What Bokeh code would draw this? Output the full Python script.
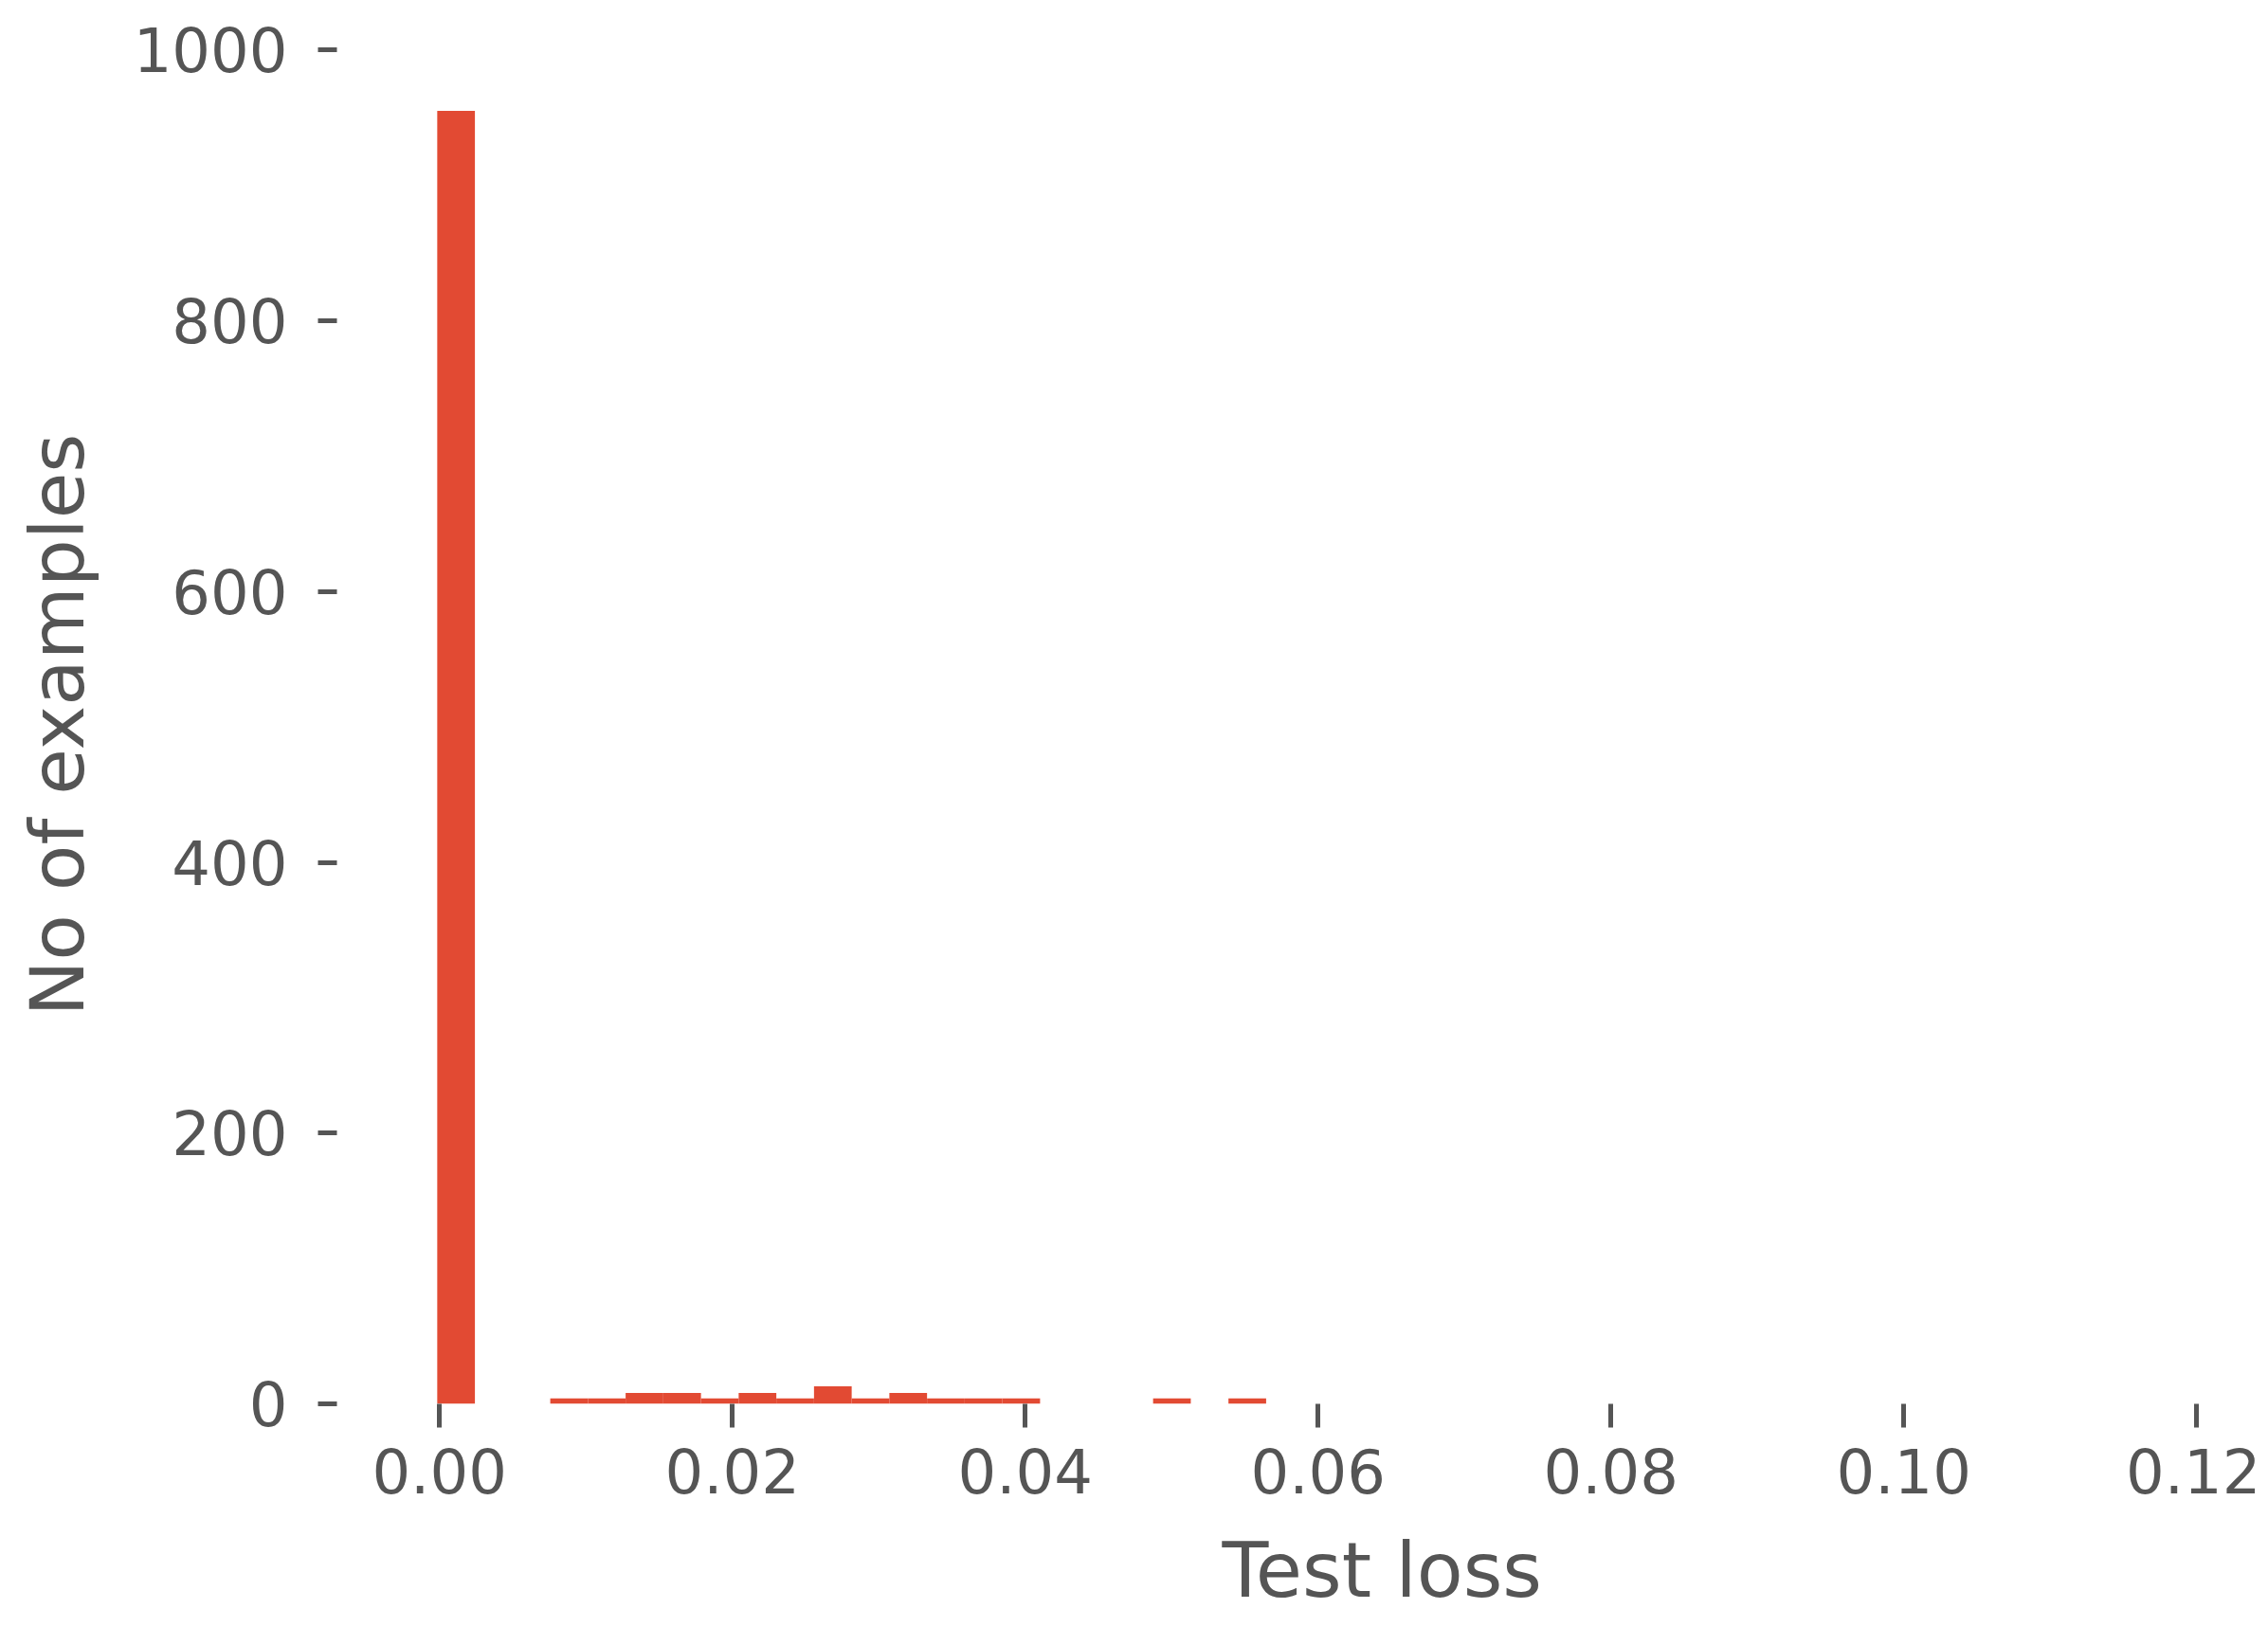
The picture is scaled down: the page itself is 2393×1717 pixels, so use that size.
import numpy as np
from bokeh.plotting import figure
from bokeh.models import Range1d, FixedTicker, PrintfTickFormatter, ColumnDataSource, Title
from bokeh.embed import file_html
from bokeh.resources import INLINE

# Histogram data
bin_start = -0.00015
bin_width = 0.002573
counts = [955, 0, 0, 4, 4, 8, 8, 4, 8, 4, 13, 4, 8, 4, 4, 4, 0, 0, 0, 4, 0, 4]
x_ticks = [0.0, 0.02, 0.04, 0.06, 0.08, 0.10, 0.12]
y_ticks = [0, 200, 400, 600, 800, 1000]
x_title = "Test loss"
y_title = "No of examples"

edges = bin_start + bin_width * np.arange(len(counts) + 1)
src = ColumnDataSource(dict(left=edges[:-1], right=edges[1:],
                            top=counts, bottom=[0] * len(counts)))

TXT = "#555555"
FONT = "DejaVu Sans"

p = figure(frame_width=2024, frame_height=1433,
           min_border_left=355, min_border_top=48, min_border_right=6, min_border_bottom=220,
           x_range=Range1d(-0.007, 0.124), y_range=Range1d(0, 1003),
           output_backend="svg", toolbar_location=None,
           y_axis_label=y_title)

p.quad(left="left", right="right", top="top", bottom="bottom", source=src,
       fill_color="#E24A33", line_color=None)

p.background_fill_color = "white"
p.border_fill_color = "white"
p.outline_line_color = None
p.grid.grid_line_color = None

p.xaxis.ticker = FixedTicker(ticks=x_ticks)
p.xaxis.formatter = PrintfTickFormatter(format="%.2f")
p.yaxis.ticker = FixedTicker(ticks=y_ticks)

for ax in (p.xaxis[0], p.yaxis[0]):
    ax.axis_line_color = None
    ax.major_tick_line_color = TXT
    ax.major_tick_line_width = 5
    ax.major_tick_in = 0
    ax.minor_tick_line_color = None
    ax.major_label_text_font = FONT
    ax.major_label_text_font_size = "64px"
    ax.major_label_text_color = TXT
    ax.axis_label_text_font = FONT
    ax.axis_label_text_font_size = "79px"
    ax.axis_label_text_font_style = "normal"
    ax.axis_label_text_color = TXT

p.xaxis.major_tick_out = 25
p.xaxis.major_label_standoff = 22
p.yaxis.major_tick_out = 20
p.yaxis.major_label_standoff = 32
p.yaxis.axis_label_standoff = 31

# x-axis title: in the reference the axes run past the right edge of the image,
# so the title sits right of the visible frame centre
p.add_layout(Title(text=x_title, align="left", offset=934, standoff=60,
                   text_font=FONT, text_font_size="80px", text_font_style="normal",
                   text_color=TXT), "below")

open("out.html", "w").write(file_html(p, INLINE))
